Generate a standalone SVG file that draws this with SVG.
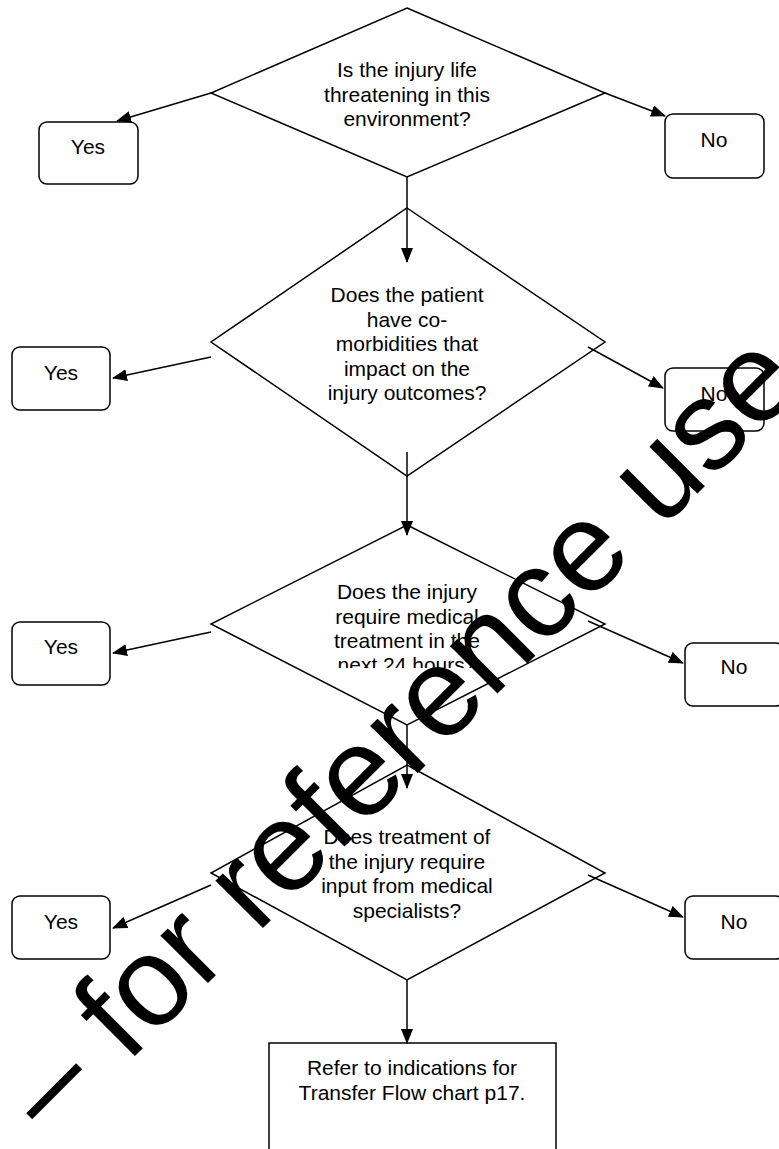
<svg xmlns="http://www.w3.org/2000/svg" width="779" height="1149" viewBox="0 0 779 1149">
<style>
.shape{fill:#fff;stroke:#000;stroke-width:1.5}
.lbl{font-family:"Liberation Sans",Arial,sans-serif;font-size:21px;fill:#000;text-anchor:middle}
.conn{stroke:#000;stroke-width:1.5;fill:none;marker-end:url(#ah)}
.wm{font-family:"Liberation Sans",Arial,sans-serif;font-size:127px;fill:#000}
</style>
<defs>
<marker id="ah" markerUnits="userSpaceOnUse" markerWidth="15" markerHeight="12" refX="14" refY="6" orient="auto">
<path d="M0,0 L15,6 L0,12 z" fill="#000"/>
</marker>
<clipPath id="c3"><rect x="0" y="0" width="779" height="668"/></clipPath>
</defs>
<rect width="779" height="1149" fill="#fff"/>

<g id="d1">
<polygon class="shape" points="407,8 605,93 407,177 211,93"/>
<text class="lbl" x="407" y="77">Is the injury life</text>
<text class="lbl" x="407" y="101.5">threatening in this</text>
<text class="lbl" x="407" y="126">environment?</text>
</g>
<g id="yes1"><rect class="shape" x="39" y="122" width="99" height="62" rx="8"/><text class="lbl" x="88" y="154">Yes</text></g>
<g id="no1"><rect class="shape" x="665" y="114" width="99" height="64" rx="8"/><text class="lbl" x="714" y="147">No</text></g>

<g id="d2">
<polygon class="shape" points="407,208 605,342 407,476 211,342"/>
<text class="lbl" x="407" y="302">Does the patient</text>
<text class="lbl" x="407" y="326.5">have co-</text>
<text class="lbl" x="407" y="351">morbidities that</text>
<text class="lbl" x="407" y="375.5">impact on the</text>
<text class="lbl" x="407" y="400">injury outcomes?</text>
</g>
<g id="yes2"><rect class="shape" x="12" y="347" width="98" height="63" rx="8"/><text class="lbl" x="61" y="380">Yes</text></g>
<g id="no2"><rect class="shape" x="665" y="368" width="99" height="63" rx="8"/><text class="lbl" x="714" y="401">No</text></g>

<g id="d3">
<polygon class="shape" points="407,525 605,624 407,725 211,624"/>
<text class="lbl" x="407" y="599">Does the injury</text>
<text class="lbl" x="407" y="624">require medical</text>
<text class="lbl" x="407" y="648">treatment in the</text>
<text class="lbl" x="407" y="672" clip-path="url(#c3)">next 24 hours?</text>
</g>
<g id="yes3"><rect class="shape" x="12" y="622" width="98" height="63" rx="8"/><text class="lbl" x="61" y="654">Yes</text></g>
<g id="no3"><rect class="shape" x="685" y="643" width="99" height="63" rx="8"/><text class="lbl" x="734" y="674">No</text></g>

<g id="d4">
<polygon class="shape" points="407,765 605,873 407,980 211,873"/>
<text class="lbl" x="407" y="844">Does treatment of</text>
<text class="lbl" x="407" y="869">the injury require</text>
<text class="lbl" x="407" y="893">input from medical</text>
<text class="lbl" x="407" y="918">specialists?</text>
</g>
<g id="yes4"><rect class="shape" x="12" y="896" width="98" height="63" rx="8"/><text class="lbl" x="61" y="929">Yes</text></g>
<g id="no4"><rect class="shape" x="685" y="896" width="99" height="63" rx="8"/><text class="lbl" x="734" y="929">No</text></g>

<g id="refer">
<rect class="shape" x="269" y="1043" width="287" height="120"/>
<text class="lbl" x="412" y="1075">Refer to indications for</text>
<text class="lbl" x="412" y="1100">Transfer Flow chart p17.</text>
</g>

<g id="connectors">
<line class="conn" x1="211" y1="93" x2="117" y2="121"/>
<line class="conn" x1="605" y1="93" x2="665" y2="116"/>
<line class="conn" x1="407" y1="177" x2="407" y2="262"/>
<line class="conn" x1="211" y1="357" x2="113" y2="378"/>
<line class="conn" x1="588" y1="347" x2="663" y2="388"/>
<line class="conn" x1="407" y1="452" x2="407" y2="535"/>
<line class="conn" x1="211" y1="632" x2="113" y2="653"/>
<line class="conn" x1="588" y1="621" x2="683" y2="663"/>
<line class="conn" x1="407" y1="725" x2="407" y2="788"/>
<line class="conn" x1="211" y1="885" x2="113" y2="928"/>
<line class="conn" x1="588" y1="875" x2="683" y2="917"/>
<line class="conn" x1="407" y1="980" x2="407" y2="1043"/>
</g>

<text class="wm" x="52" y="1139" transform="rotate(-45 52 1139)">– for reference use</text>
</svg>
